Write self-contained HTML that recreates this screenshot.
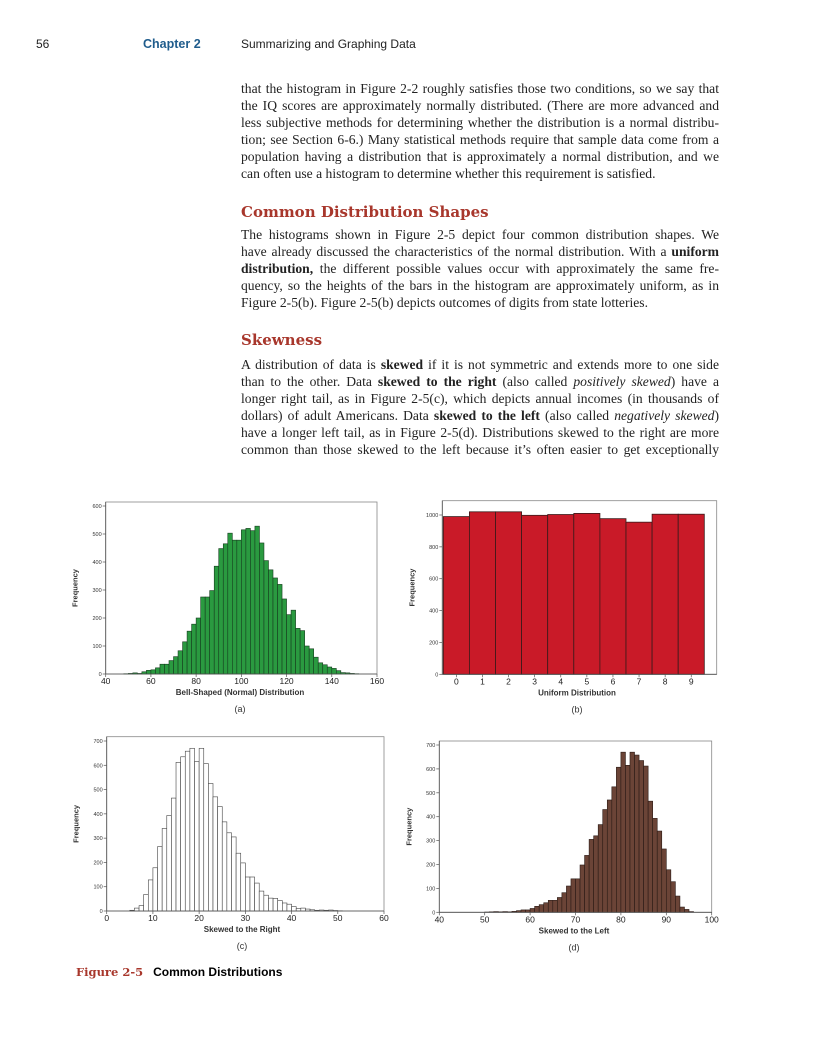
<!DOCTYPE html>
<html><head><meta charset="utf-8">
<style>
body{margin:0;background:#fff;}
#page{position:relative;width:816px;height:1045px;overflow:hidden;background:#fff;}
.l{position:absolute;left:241px;width:478px;font-family:"Liberation Serif",serif;font-size:13.6px;line-height:17px;color:#222;white-space:nowrap;text-align:justify;text-align-last:justify;}
.l.e{text-align-last:left;}
.h{position:absolute;left:241px;font-family:"DejaVu Serif","Liberation Serif",serif;font-weight:bold;font-size:15px;color:#a8372c;line-height:18px;}
.hdr{position:absolute;top:37px;font-family:"Liberation Sans",sans-serif;font-size:12px;color:#222;}
svg{position:absolute;left:0;top:0;}
</style></head><body>
<div id="page">
<div class="hdr" style="left:36px">56</div>
<div class="hdr" style="left:143px;font-weight:bold;color:#1f5c8c;font-size:12.5px">Chapter 2</div>
<div class="hdr" style="left:241px">Summarizing and Graphing Data</div>

<div>
<div class="l" style="top:80px">that the histogram in Figure 2-2 roughly satisfies those two conditions, so we say that</div>
<div class="l" style="top:97px">the IQ scores are approximately normally distributed. (There are more advanced and</div>
<div class="l" style="top:114px">less subjective methods for determining whether the distribution is a normal distribu-</div>
<div class="l" style="top:131px">tion; see Section 6-6.) Many statistical methods require that sample data come from a</div>
<div class="l" style="top:148px">population having a distribution that is approximately a normal distribution, and we</div>
<div class="l e" style="top:165px">can often use a histogram to determine whether this requirement is satisfied.</div>
</div>
<div class="h" style="top:203px">Common Distribution Shapes</div>
<div>
<div class="l" style="top:226px">The histograms shown in Figure 2-5 depict four common distribution shapes. We</div>
<div class="l" style="top:243px">have already discussed the characteristics of the normal distribution. With a <b>uniform</b></div>
<div class="l" style="top:260px"><b>distribution,</b> the different possible values occur with approximately the same fre-</div>
<div class="l" style="top:277px">quency, so the heights of the bars in the histogram are approximately uniform, as in</div>
<div class="l e" style="top:294px">Figure 2-5(b). Figure 2-5(b) depicts outcomes of digits from state lotteries.</div>
</div>
<div class="h" style="top:331px">Skewness</div>
<div>
<div class="l" style="top:356px">A distribution of data is <b>skewed</b> if it is not symmetric and extends more to one side</div>
<div class="l" style="top:373px">than to the other. Data <b>skewed to the right</b> (also called <i>positively skewed</i>) have a</div>
<div class="l" style="top:390px">longer right tail, as in Figure 2-5(c), which depicts annual incomes (in thousands of</div>
<div class="l" style="top:407px">dollars) of adult Americans. Data <b>skewed to the left</b> (also called <i>negatively skewed</i>)</div>
<div class="l" style="top:424px">have a longer left tail, as in Figure 2-5(d). Distributions skewed to the right are more</div>
<div class="l" style="top:441px">common than those skewed to the left because it’s often easier to get exceptionally</div>
</div>

<svg id="charts" width="816" height="1045"></svg>
<div style="position:absolute;left:76px;top:965px;font-family:'Liberation Sans',sans-serif;font-size:12px;font-weight:bold"><span style="color:#a8372c;font-family:'DejaVu Serif',serif;font-size:11.5px">Figure 2-5</span>&nbsp;&nbsp;&nbsp;Common Distributions</div>
</div>
<script>
// (a) normal
const normalBins = [48,50,52,54,56,58,60,62,64,66,68,70,72,74,76,78,80,82,84,86,88,90,92,94,96,98,100,102,104,106,108,110,112,114,116,118,120,122,124,126,128,130,132,134,136,138,140,142,144,146,148,150];
const normalCounts = [1,2,4,2,8,13,15,22,35,35,48,62,83,115,153,178,200,275,275,298,385,448,465,503,478,478,515,520,512,528,468,405,372,343,320,268,212,228,163,155,100,90,60,40,33,25,20,12,5,4,2,1];
const normalXTicks = [40,60,80,100,120,140,160];
const normalYTicks = [0,100,200,300,400,500,600];
// (b) uniform
const uniformDigits = [0,1,2,3,4,5,6,7,8,9];
const uniformCounts = [990,1020,1020,998,1003,1010,977,955,1005,1005];
const uniformYTicks = [0,200,400,600,800,1000];
// (c) right skewed
const rightBins = [5,6,7,8,9,10,11,12,13,14,15,16,17,18,19,20,21,22,23,24,25,26,27,28,29,30,31,32,33,34,35,36,37,38,39,40,41,42,43,44,45,46,47,48,49,50];
const rightCounts = [3,12,22,68,128,178,265,340,393,465,612,635,658,670,615,670,607,525,470,430,367,322,305,238,198,140,140,115,82,65,53,52,43,33,28,18,10,12,8,5,3,4,3,4,2,1];
const rightXTicks = [0,10,20,30,40,50,60];
const rightYTicks = [0,100,200,300,400,500,600,700];
// (d) left skewed
const leftBins = [50,51,52,53,54,55,56,57,58,59,60,61,62,63,64,65,66,67,68,69,70,71,72,73,74,75,76,77,78,79,80,81,82,83,84,85,86,87,88,89,90,91,92,93,94,95];
const leftCounts = [1,2,3,2,3,2,4,7,10,10,16,25,32,40,50,50,62,82,110,140,140,198,238,305,320,367,430,470,525,607,670,615,670,658,635,612,465,393,340,265,178,128,68,22,12,3];
const leftXTicks = [40,50,60,70,80,90,100];
const leftYTicks = [0,100,200,300,400,500,600,700];

const NS="http://www.w3.org/2000/svg";
const svg=document.getElementById('charts');
function mk(tag,attrs,parent,txt){const e=document.createElementNS(NS,tag);for(const k in attrs)e.setAttribute(k,attrs[k]);if(txt!==undefined)e.textContent=txt;(parent||svg).appendChild(e);return e;}

function chart(c){
  const g=mk('g',{});
  
  
  const sx=v=>c.px0+(v-c.x0)/(c.x1-c.x0)*(c.px1-c.px0);
  const sy=v=>c.py0-(v/c.ymaxv)*(c.py0-c.pyMax);
  const fr=mk('rect',{x:c.fl,y:c.ft,width:c.fr-c.fl,height:c.py0-c.ft,fill:'none',stroke:'#888','stroke-width':0.8},g);
  
  
  // bars
  c.bins.forEach((b,i)=>{
    const x=sx(b), w=sx(b+c.bw)-x, y=sy(c.counts[i]);
    const r=mk('rect',{x:x,y:y,width:w,height:c.py0-y,fill:c.fill,stroke:c.stroke,'stroke-width':c.sw||0.6},g);
    
    
  });
  // axes
  mk('line',{x1:c.fl,y1:c.py0,x2:c.fr,y2:c.py0,stroke:'#555','stroke-width':0.8},g);
  mk('line',{x1:c.fl,y1:c.ft,x2:c.fl,y2:c.py0,stroke:'#555','stroke-width':0.8},g);
  c.yt.forEach(v=>{
    const y=sy(v);
    mk('line',{x1:c.fl-3,y1:y,x2:c.fl,y2:y,stroke:'#555','stroke-width':0.7},g);
    const t=mk('text',{x:c.fl-4,y:y+2,'text-anchor':'end','font-size':5.5,'font-family':'Liberation Sans,sans-serif',fill:'#333'},g,String(v));
    
    
  });
  c.xt.forEach((v,i)=>{
    const x=c.xcenter?sx(v+0.5):sx(v);
    mk('line',{x1:x,y1:c.py0,x2:x,y2:c.py0+3,stroke:'#555','stroke-width':0.7},g);
    const t=mk('text',{x:x,y:c.py0+10,'text-anchor':'middle','font-size':8.5,'font-family':'Liberation Sans,sans-serif',fill:'#222'},g,String(v));
    
    
  });
  const cx=(c.fl+c.fr)/2;
  const xt=mk('text',{x:c.xtx||cx,y:c.py0+21,'text-anchor':'middle','font-size':8,'font-weight':'bold','font-family':'Liberation Sans,sans-serif',fill:'#333'},g,c.xtitle);
  
  
  const yc=(c.ft+c.py0)/2;
  const yt=mk('text',{x:c.fl-28,y:yc,'text-anchor':'middle','font-size':7.5,'font-weight':'bold','font-family':'Liberation Sans,sans-serif',fill:'#333',transform:`rotate(-90 ${c.fl-28} ${yc})`},g,'Frequency');
  
  
  const lb=mk('text',{x:c.xtx||cx,y:c.py0+38,'text-anchor':'middle','font-size':9,'font-family':'Liberation Sans,sans-serif',fill:'#333'},g,c.label);
  
  
}

chart({name:'normal-histogram',bins:normalBins,counts:normalCounts,bw:2,x0:40,x1:160,px0:105.7,px1:377,py0:674,pyMax:506,ymaxv:600,fl:105.7,fr:377,ft:502,yt:normalYTicks,xt:normalXTicks,fill:'#2a9a40',stroke:'#173d1f',xtitle:'Bell-Shaped (Normal) Distribution',label:'(a)',xtx:240});
chart({name:'uniform-histogram',bins:uniformDigits,counts:uniformCounts,bw:1,x0:0,x1:10,px0:443.3,px1:704.3,py0:674.3,pyMax:515,ymaxv:1000,fl:442.3,fr:716.7,ft:500.7,yt:uniformYTicks,xt:uniformDigits,xcenter:true,fill:'#c91a28',stroke:'#3a1a1a',sw:0.8,xtitle:'Uniform Distribution',label:'(b)',xtx:577});
chart({name:'right-skewed-histogram',bins:rightBins,counts:rightCounts,bw:1,x0:0,x1:60,px0:106.7,px1:384,py0:911,pyMax:741,ymaxv:700,fl:106.7,fr:384,ft:736.7,yt:rightYTicks,xt:rightXTicks,fill:'#ffffff',stroke:'#444',xtitle:'Skewed to the Right',label:'(c)',xtx:242});
chart({name:'left-skewed-histogram',bins:leftBins,counts:leftCounts,bw:1,x0:40,x1:100,px0:439.3,px1:711.7,py0:912.3,pyMax:745,ymaxv:700,fl:439.3,fr:711.7,ft:741,yt:leftYTicks,xt:leftXTicks,fill:'#6b4437',stroke:'#2a1a15',xtitle:'Skewed to the Left',label:'(d)',xtx:574});
</script>
</body></html>
